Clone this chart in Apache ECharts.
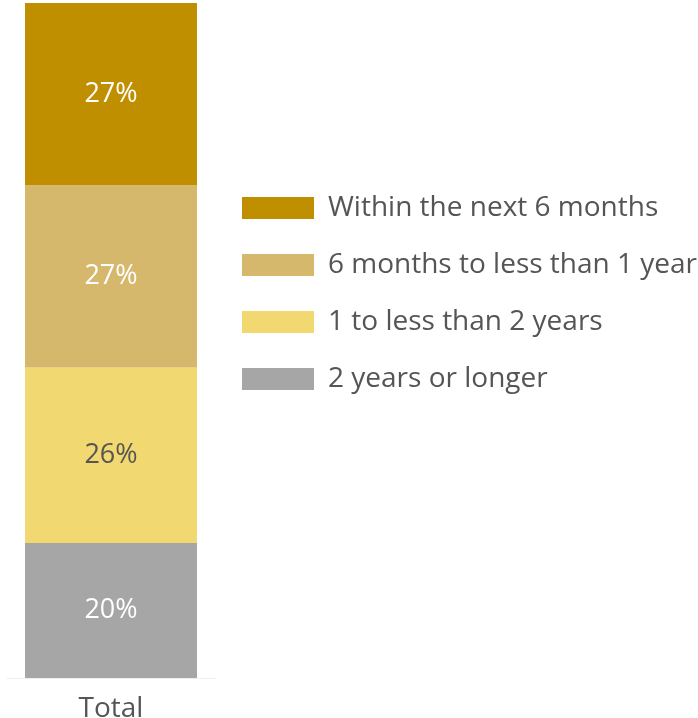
<!DOCTYPE html>
<html>
<head>
<meta charset="utf-8">
<script src="https://cdn.jsdelivr.net/npm/echarts@6/dist/echarts.min.js"></script>
<style>
  html, body { margin: 0; padding: 0; background: #fff; }
  #chart { width: 698px; height: 718px; }
</style>
</head>
<body>
<div id="chart"></div>
<script>
// Timing of expected purchase, share of respondents (%)
const categories = ['Total'];
const seriesNames = ['2 years or longer', '1 to less than 2 years', '6 months to less than 1 year', 'Within the next 6 months'];
const values2yPlus = [20];
const values1to2y = [26];
const values6mTo1y = [27];
const valuesWithin6m = [27];

const colors = {
  '2 years or longer': '#a6a6a6',
  '1 to less than 2 years': '#f2d870',
  '6 months to less than 1 year': '#d6b86c',
  'Within the next 6 months': '#c08f00'
};
const labelColors = {
  '2 years or longer': '#ffffff',
  '1 to less than 2 years': '#555555',
  '6 months to less than 1 year': '#ffffff',
  'Within the next 6 months': '#ffffff'
};
const seriesData = [values2yPlus, values1to2y, values6mTo1y, valuesWithin6m];

const font = '"Open Sans", sans-serif';

const chart = echarts.init(document.getElementById('chart'));
chart.setOption({
  animation: false,
  grid: { left: 7, width: 208, top: 3, bottom: 40, containLabel: false, outerBoundsMode: 'none' },
  legend: {
    data: ['Within the next 6 months', '6 months to less than 1 year', '1 to less than 2 years', '2 years or longer'],
    orient: 'vertical',
    left: 242,
    top: 192,
    padding: 0,
    itemWidth: 72,
    itemHeight: 22,
    itemGap: 25,
    icon: 'rect',
    textStyle: { fontFamily: font, fontSize: 28, color: '#555555', padding: [0, 0, 0, 9], lineHeight: 32 }
  },
  xAxis: {
    type: 'category',
    data: categories,
    axisLine: { lineStyle: { color: '#eeeeee', width: 1 } },
    axisTick: { show: false },
    axisLabel: { fontFamily: font, fontSize: 28, color: '#555555', margin: 17 }
  },
  yAxis: {
    type: 'value',
    min: 0,
    max: 100,
    show: false,
    splitLine: { show: false }
  },
  series: seriesNames.map((name, i) => ({
    name: name,
    type: 'bar',
    stack: 'total',
    barWidth: 172,
    data: seriesData[i],
    itemStyle: { color: colors[name] },
    label: {
      show: true,
      position: 'inside',
      formatter: '{c}%',
      fontFamily: font,
      fontSize: 27,
      color: labelColors[name]
    }
  }))
});
</script>
</body>
</html>
